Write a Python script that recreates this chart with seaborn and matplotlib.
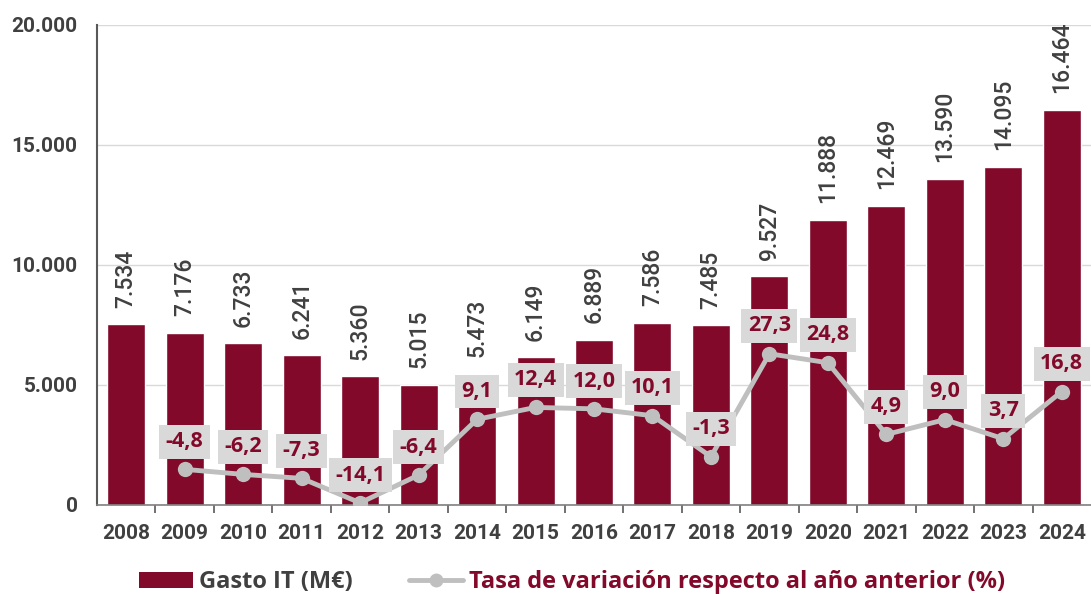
import matplotlib
matplotlib.use("Agg")
import matplotlib.pyplot as plt
import seaborn as sns
import pandas as pd
import numpy as np
from matplotlib.patches import Patch
from matplotlib.lines import Line2D

years = ["2008", "2009", "2010", "2011", "2012", "2013", "2014", "2015", "2016",
         "2017", "2018", "2019", "2020", "2021", "2022", "2023", "2024"]
gasto = [7534, 7176, 6733, 6241, 5360, 5015, 5473, 6149, 6889,
         7586, 7485, 9527, 11888, 12469, 13590, 14095, 16464]
rate_years = years[1:]
tasa = [-4.8, -6.2, -7.3, -14.1, -6.4, 9.1, 12.4, 12.0, 10.1,
        -1.3, 27.3, 24.8, 4.9, 9.0, 3.7, 16.8]
y_ticks = [0, 5000, 10000, 15000, 20000]
y_tick_labels = ["0", "5.000", "10.000", "15.000", "20.000"]

BAR = "#82092A"
GREY_LINE = "#BFBFBF"
BOX = "#D9D9D9"
TXT = "#404040"

sns.set_theme(style="white")
plt.rcParams["font.family"] = ["Roboto", "DejaVu Sans"]

fig = plt.figure(figsize=(10.91, 5.94), dpi=100)
ax = fig.add_axes([97 / 1091, 89 / 594, 1 - 97 / 1091, 480 / 594])

df = pd.DataFrame({"year": years, "gasto": gasto})
sns.barplot(data=df, x="year", y="gasto", color=BAR, saturation=1, width=0.65, ax=ax, zorder=2)

ax.set_xlim(-0.5, len(years) - 0.5)
ax.set_ylim(0, 20000)
ax.set_yticks(y_ticks)
ax.set_yticklabels(y_tick_labels, fontsize=15, fontweight="bold", color=TXT)
ax.set_xlabel("")
ax.set_ylabel("")
ax.yaxis.grid(True, color="#D9D9D9", linewidth=1, zorder=0)
ax.set_axisbelow(True)
for s in ["top", "right"]:
    ax.spines[s].set_visible(False)
ax.spines["left"].set_color("#595959")
ax.spines["left"].set_linewidth(1.5)
ax.spines["bottom"].set_color("#808080")
ax.spines["bottom"].set_linewidth(1.2)
ax.tick_params(axis="y", length=0, pad=14)

# x ticks: labels at centers, tick marks at boundaries
ax.set_xticks(range(len(years)))
ax.set_xticklabels(years, fontsize=15, fontweight="bold", color=TXT)
ax.tick_params(axis="x", which="major", length=0, pad=14)
ax.set_xticks(np.arange(0.5, len(years) - 0.5, 1), minor=True)
ax.tick_params(axis="x", which="minor", length=6, width=1.2, color="#595959", bottom=True)

for c in ax.containers:
    labels = [f"{int(v):,}".replace(",", ".") for v in c.datavalues]
    ax.bar_label(c, labels=labels, rotation=90, padding=12, fontsize=16.5, color=TXT,
                 fontweight="medium")

ax2 = ax.twinx()
pos = [years.index(y) for y in rate_years]
sns.lineplot(x=pos, y=tasa, ax=ax2, color=GREY_LINE, linewidth=3.5, marker="o",
             markersize=11, markeredgewidth=0, zorder=3)
ax2.set_ylim(-14.7, 118.6)
ax2.set_xlim(-0.5, len(years) - 0.5)
ax2.axis("off")
for p, t in zip(pos, tasa):
    ax2.annotate(f"{t:.1f}".replace(".", ","), (p, t), xytext=(0, 20), textcoords="offset points",
                 ha="center", va="center", fontsize=15.5, fontweight="bold", color=BAR,
                 family=["Open Sans", "DejaVu Sans"],
                 bbox=dict(boxstyle="square,pad=0.3", fc=BOX, ec="none"), zorder=4)

handles = [Patch(facecolor=BAR, edgecolor="none"),
           Line2D([0], [0], color=GREY_LINE, linewidth=3.5, marker="o", markersize=10, markeredgewidth=0)]
leg = fig.legend(handles, ["Gasto IT (M€)", "Tasa de variación respecto al año anterior (%)"],
                 loc="center", bbox_to_anchor=(572 / 1091, 1 - 582 / 594), ncol=2, frameon=False,
                 handlelength=2.3, handleheight=0.65, columnspacing=2.4, handletextpad=0.25,
                 prop={"family": ["Open Sans", "DejaVu Sans"], "weight": "bold", "size": 17},
                 labelcolor=[TXT, BAR])

fig.savefig("out.png", dpi=100)
